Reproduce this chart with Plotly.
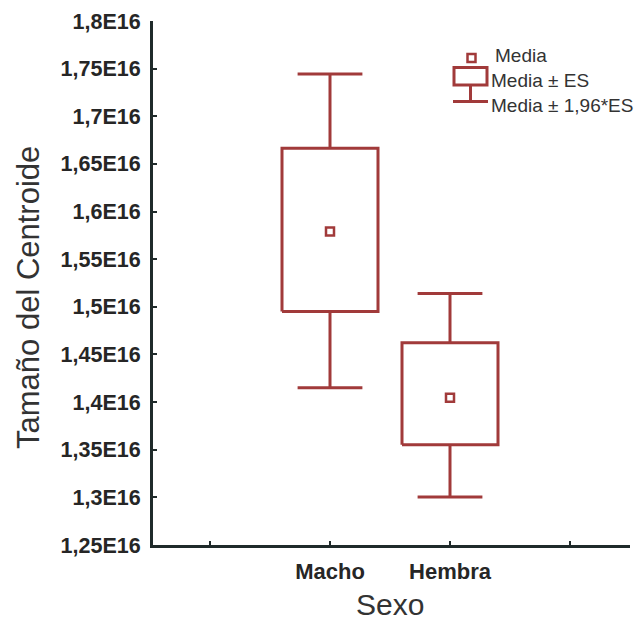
import plotly.graph_objects as go

# ---- data (values in units of 1E16) ----
categories = ["Macho", "Hembra"]
means = [1.579, 1.4046]
es_low = [1.495, 1.3552]
es_high = [1.6664, 1.4624]
ci_low = [1.4151, 1.3005]
ci_high = [1.7443, 1.514]
scale = 1e16

y_tick_vals = [1.25, 1.30, 1.35, 1.40, 1.45, 1.50, 1.55, 1.60, 1.65, 1.70, 1.75, 1.80]
y_tick_text = ["1,25E16", "1,3E16", "1,35E16", "1,4E16", "1,45E16", "1,5E16",
               "1,55E16", "1,6E16", "1,65E16", "1,7E16", "1,75E16", "1,8E16"]
x_tick_vals = [0, 1, 2, 3]
x_tick_text = ["", "Macho", "Hembra", ""]
legend_labels = ["Media", "Media ± ES", "Media ± 1,96*ES"]

# ---- style ----
RED = "#A13A3A"
AXIS = "#1f2a2a"
W, H = 638, 624
L, R, T, B = 153, 8, 21, 79
box_half = 0.40
cap_half = 0.27

fig = go.Figure()

bx, by = [], []
for i, c in enumerate(categories):
    xc = i + 1
    lo, hi = es_low[i] * scale, es_high[i] * scale
    wl, wh = ci_low[i] * scale, ci_high[i] * scale
    # box
    bx += [xc - box_half, xc + box_half, xc + box_half, xc - box_half, xc - box_half, None]
    by += [lo, lo, hi, hi, lo, None]
    # upper whisker + cap
    bx += [xc, xc, None, xc - cap_half, xc + cap_half, None]
    by += [hi, wh, None, wh, wh, None]
    # lower whisker + cap
    bx += [xc, xc, None, xc - cap_half, xc + cap_half, None]
    by += [lo, wl, None, wl, wl, None]

fig.add_trace(go.Scatter(x=bx, y=by, mode="lines",
                         line=dict(color=RED, width=3), hoverinfo="skip",
                         showlegend=False))
fig.add_trace(go.Scatter(x=[1, 2], y=[m * scale for m in means], mode="markers",
                         marker=dict(symbol="square-open", size=8, color=RED,
                                     line=dict(width=2.5, color=RED)),
                         showlegend=False))

pw = W - L - R
ph = H - T - B


def px(x):
    return (x - L) / pw


def py(y):
    return (H - B - y) / ph


shapes = []
# legend: mean square
shapes.append(dict(type="rect", xref="paper", yref="paper",
                   x0=px(467.5), x1=px(475.5), y0=py(62), y1=py(54),
                   line=dict(color=RED, width=2.5)))
# legend: box icon
shapes.append(dict(type="rect", xref="paper", yref="paper",
                   x0=px(454), x1=px(487), y0=py(85), y1=py(67.5),
                   line=dict(color=RED, width=3)))
# legend: whisker icon
shapes.append(dict(type="line", xref="paper", yref="paper",
                   x0=px(470.5), x1=px(470.5), y0=py(85), y1=py(101.5),
                   line=dict(color=RED, width=3)))
shapes.append(dict(type="line", xref="paper", yref="paper",
                   x0=px(453), x1=px(488), y0=py(101.5), y1=py(101.5),
                   line=dict(color=RED, width=3)))

ann = []
leg_font = dict(family="Liberation Sans, Arial, sans-serif", size=19, color="#333333")
ann.append(dict(xref="paper", yref="paper", x=px(493), y=py(55), text=legend_labels[0],
                showarrow=False, xanchor="left", yanchor="middle", font=leg_font))
ann.append(dict(xref="paper", yref="paper", x=px(489), y=py(80), text=legend_labels[1],
                showarrow=False, xanchor="left", yanchor="middle", font=leg_font))
ann.append(dict(xref="paper", yref="paper", x=px(489), y=py(105), text=legend_labels[2],
                showarrow=False, xanchor="left", yanchor="middle", font=leg_font))
# axis titles
title_font = dict(family="Liberation Sans, Arial, sans-serif", size=31, color="#333333")
ann.append(dict(xref="paper", yref="paper", x=px(28), y=py(297), text="Tamaño del Centroide",
                textangle=-90, showarrow=False, xanchor="center", yanchor="middle",
                font=title_font))
ann.append(dict(xref="paper", yref="paper", x=px(390), y=py(604),
                text="Sexo", showarrow=False, xanchor="center", yanchor="middle",
                font=dict(family="Liberation Sans, Arial, sans-serif", size=30,
                          color="#333333")))

fig.update_layout(
    width=W, height=H,
    margin=dict(l=L, r=R, t=T, b=B, autoexpand=False),
    paper_bgcolor="white", plot_bgcolor="white",
    shapes=shapes, annotations=ann,
    xaxis=dict(range=[-0.475, 3.5], tickmode="array", tickvals=x_tick_vals,
               ticktext=x_tick_text, showgrid=False, zeroline=False,
               showline=True, linecolor=AXIS, linewidth=3,
               ticks="inside", ticklen=4, tickwidth=2, tickcolor=AXIS,
               tickfont=dict(family="Liberation Sans, Arial, sans-serif", size=22,
                             color="#262626", weight="bold"),
               ticklabelstandoff=5),
    yaxis=dict(range=[1.25 * scale, 1.8 * scale], tickmode="array",
               tickvals=[v * scale for v in y_tick_vals], ticktext=y_tick_text,
               showgrid=False, zeroline=False,
               showline=True, linecolor=AXIS, linewidth=3,
               ticks="inside", ticklen=4, tickwidth=2, tickcolor=AXIS,
               tickfont=dict(family="Liberation Sans, Arial, sans-serif", size=21.5,
                             color="#262626", weight="bold"),
               ticklabelstandoff=5),
)

fig.write_html("out.html")
